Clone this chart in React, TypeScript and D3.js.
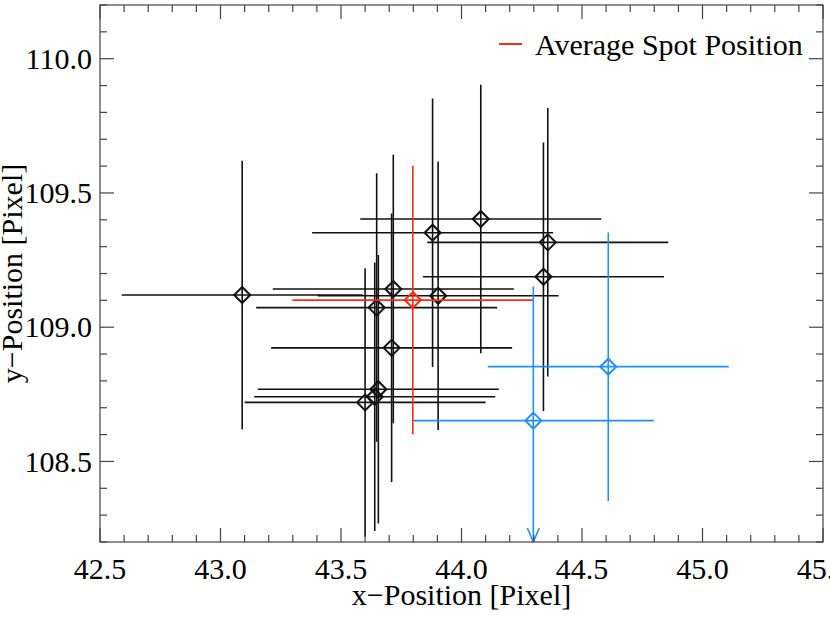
import React from "react";
import * as d3 from "d3";

// spot positions (pixel)
const blackX = [43.09, 43.648, 43.717, 43.88, 44.08, 43.903, 43.71, 43.655, 43.64, 43.6, 44.358, 44.34];
const blackY = [109.12, 109.073, 109.142, 109.352, 109.403, 109.117, 108.923, 108.769, 108.741, 108.72, 109.316, 109.188];
const blackXErr = [0.5, 0.5, 0.5, 0.5, 0.5, 0.5, 0.5, 0.5, 0.5, 0.5, 0.5, 0.5];
const blackYErr = [0.5, 0.5, 0.5, 0.5, 0.5, 0.5, 0.5, 0.5, 0.5, 0.5, 0.5, 0.5];

const avgX = [43.798];
const avgY = [109.101];
const avgXErr = [0.5];
const avgYErr = [0.5];

const blueX = [44.609, 44.298];
const blueY = [108.853, 108.652];
const blueXErr = [0.5, 0.5];
const blueYErr = [0.5, 0.5];

const xMajor = [42.5, 43.0, 43.5, 44.0, 44.5, 45.0, 45.5];
const yMajor = [108.5, 109.0, 109.5, 110.0];

const W = 830;
const H = 623;
const margin = { left: 100, right: 7, top: 5, bottom: 81 };

const BLACK = "#111";
const RED = "#ff2a10";
const BLUE = "#1e8fff";
const FONT = "Liberation Serif, Times New Roman, serif";

const x = d3.scaleLinear().domain([42.5, 45.5]).range([margin.left, W - margin.right]);
const y = d3.scaleLinear().domain([108.2, 110.2]).range([H - margin.bottom, margin.top]);

const xMinor = d3.range(42.5, 45.5001, 0.1).map((v) => +v.toFixed(2));
const yMinor = d3.range(108.2, 110.2001, 0.1).map((v) => +v.toFixed(2));

type Pt = { x: number; y: number; xe: number; ye: number };

const zip = (xs: number[], ys: number[], xe: number[], ye: number[]): Pt[] =>
  xs.map((v, i) => ({ x: v, y: ys[i], xe: xe[i], ye: ye[i] }));

const Series = ({ pts, color }: { pts: Pt[]; color: string }) => {
  const [y0, y1] = y.domain();
  return (
    <g>
      {pts.map((p, i) => {
        const cx = x(p.x);
        const cy = y(p.y);
        const lowClipped = p.y - p.ye < y0;
        const top = y(Math.min(p.y + p.ye, y1));
        const bot = y(Math.max(p.y - p.ye, y0));
        const r = 8;
        return (
          <g key={i} stroke={color} fill="none">
            <line x1={x(p.x - p.xe)} x2={x(p.x + p.xe)} y1={cy} y2={cy} strokeWidth={1.6} />
            <line x1={cx} x2={cx} y1={top} y2={bot} strokeWidth={1.6} />
            {lowClipped && (
              <path d={`M${cx - 6},${bot - 14}L${cx},${bot}L${cx + 6},${bot - 14}`} strokeWidth={1.6} />
            )}
            <path
              d={`M${cx},${cy - r}L${cx + r},${cy}L${cx},${cy + r}L${cx - r},${cy}Z`}
              strokeWidth={2}
            />
          </g>
        );
      })}
    </g>
  );
};

export default function App() {
  const [x0, x1] = x.range();
  const [yb, yt] = y.range();
  const black = zip(blackX, blackY, blackXErr, blackYErr);
  const avg = zip(avgX, avgY, avgXErr, avgYErr);
  const blue = zip(blueX, blueY, blueXErr, blueYErr);
  const isMajor = (v: number, majors: number[]) => majors.some((m) => Math.abs(m - v) < 1e-6);
  const ts = { fontFamily: FONT };

  return (
    <svg
      width={W}
      height={H}
      style={{ position: "absolute", left: 0, top: 0, background: "#fff" }}
    >
      <defs>
        <clipPath id="plot">
          <rect x={x0} y={yt} width={x1 - x0} height={yb - yt} />
        </clipPath>
      </defs>

      <g clipPath="url(#plot)">
        <Series pts={black} color={BLACK} />
        <Series pts={avg} color={RED} />
        <Series pts={blue} color={BLUE} />
      </g>

      {/* frame + ticks on all four sides */}
      <rect x={x0} y={yt} width={x1 - x0} height={yb - yt} fill="none" stroke="#444" strokeWidth={1.2} />
      <g stroke="#444" strokeWidth={1.2}>
        {xMinor.map((v) => {
          const len = isMajor(v, xMajor) ? 14 : 7;
          return (
            <g key={"x" + v}>
              <line x1={x(v)} x2={x(v)} y1={yb} y2={yb - len} />
              <line x1={x(v)} x2={x(v)} y1={yt} y2={yt + len} />
            </g>
          );
        })}
        {yMinor.map((v) => {
          const len = isMajor(v, yMajor) ? 14 : 7;
          return (
            <g key={"y" + v}>
              <line x1={x0} x2={x0 + len} y1={y(v)} y2={y(v)} />
              <line x1={x1} x2={x1 - len} y1={y(v)} y2={y(v)} />
            </g>
          );
        })}
      </g>

      <g fontSize={30} fill="#000">
        {xMajor.map((v) => (
          <text key={v} x={x(v)} y={yb + 37} textAnchor="middle" style={ts}>
            {v.toFixed(1)}
          </text>
        ))}
        {yMajor.map((v) => (
          <text key={v} x={x0 - 8} y={y(v)} dy="0.34em" textAnchor="end" style={ts}>
            {v.toFixed(1)}
          </text>
        ))}
        <text x={(x0 + x1) / 2} y={605} textAnchor="middle" style={ts}>
          x−Position [Pixel]
        </text>
        <text transform={`translate(22,${(yt + yb) / 2}) rotate(-90)`} textAnchor="middle" style={ts}>
          y−Position [Pixel]
        </text>
      </g>

      {/* legend */}
      <line x1={499} x2={522} y1={44} y2={44} stroke={RED} strokeWidth={2} />
      <text x={535} y={55} fontSize={30} fill="#000" style={ts}>
        Average Spot Position
      </text>
    </svg>
  );
}
